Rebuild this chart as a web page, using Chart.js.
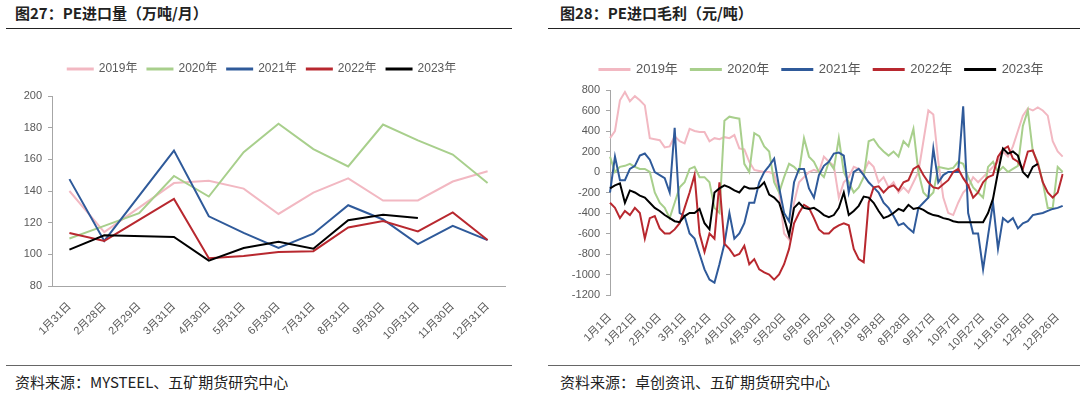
<!DOCTYPE html>
<html>
<head>
<meta charset="utf-8">
<script src="https://cdn.jsdelivr.net/npm/chart.js@4.4.0/dist/chart.umd.min.js"></script>
<style>
  html, body { margin: 0; padding: 0; background: #fff; }
  body { width: 1080px; height: 393px; position: relative; overflow: hidden; font-family: "Noto Sans CJK SC", sans-serif; }
  .title { position: absolute; top: 2px; font-size: 15px; font-weight: bold; color: #222; }
  .source { position: absolute; top: 371px; font-size: 15px; color: #222; }
  .rule { position: absolute; height: 0; }
  canvas { position: absolute; }
</style>
</head>
<body>
<div class="title" style="left:15px">图27：PE进口量（万吨/月）</div>
<div class="title" style="left:560px">图28：PE进口毛利（元/吨）</div>
<div class="rule" style="left:6px; width:506px; top:28px; border-top:1.5px solid #222"></div>
<div class="rule" style="left:548px; width:532px; top:28px; border-top:1.5px solid #222"></div>
<div class="rule" style="left:6px; width:506px; top:365px; border-top:1.5px solid #666"></div>
<div class="rule" style="left:548px; width:532px; top:365px; border-top:1.5px solid #666"></div>
<div class="source" style="left:15px">资料来源：MYSTEEL、五矿期货研究中心</div>
<div class="source" style="left:560px">资料来源：卓创资讯、五矿期货研究中心</div>
<canvas id="volChart" width="520" height="320" style="left:0; top:40px"></canvas>
<canvas id="marginChart" width="535" height="320" style="left:545px; top:40px"></canvas>
<script>
// 图27 月度进口量
const volMonths = ['1月31日','2月28日','2月29日','3月31日','4月30日','5月31日','6月30日','7月31日','8月31日','9月30日','10月31日','11月30日','12月31日'];
const vol2019 = [140, 114, null, 145, 146.5, 141.5, 125.5, 139, 148, 134, 134, 146, 152.5];
const vol2020 = [110, 118, 126, 149.5, 136.5, 164.5, 182.5, 166.5, 155.5, 182, 172, 163, 145];
const vol2021 = [147.5, 108.5, null, 165.5, 124, 113.5, 104, 113, 131, 122, 106.5, 118, 109];
const vol2022 = [113.5, 108.5, null, 135, 97.5, 99, 101.5, 102, 117, 121, 114.5, 126.5, 109];
const vol2023 = [103, 112, null, 111, 96, 104, 108, 103.5, 121.5, 125, 123, null, null];

// 图28 进口毛利 (每4天取一个点)
const marginDays = [
  '1月1日','1月5日','1月9日','1月13日','1月17日','1月21日','1月25日','1月29日',
  '2月2日','2月6日','2月10日','2月14日','2月18日','2月22日','2月26日',
  '3月1日','3月5日','3月9日','3月13日','3月17日','3月21日','3月25日','3月29日',
  '4月2日','4月6日','4月10日','4月14日','4月18日','4月22日','4月26日','4月30日',
  '5月4日','5月8日','5月12日','5月16日','5月20日','5月24日','5月28日',
  '6月1日','6月5日','6月9日','6月13日','6月17日','6月21日','6月25日','6月29日',
  '7月3日','7月7日','7月11日','7月15日','7月19日','7月23日','7月27日','7月31日',
  '8月4日','8月8日','8月12日','8月16日','8月20日','8月24日','8月28日',
  '9月1日','9月5日','9月9日','9月13日','9月17日','9月21日','9月25日','9月29日',
  '10月3日','10月7日','10月11日','10月15日','10月19日','10月23日','10月27日','10月31日',
  '11月4日','11月8日','11月12日','11月16日','11月20日','11月24日','11月28日',
  '12月2日','12月6日','12月10日','12月14日','12月18日','12月22日','12月26日','12月30日'
];
const marginTicks = ['1月1日','1月21日','2月10日','3月1日','3月21日','4月10日','4月30日','5月20日','6月9日','6月29日','7月19日','8月8日','8月28日','9月17日','10月7日','10月27日','11月16日','12月6日','12月26日'];
const margin2019 = [330, 400, 700, 780, 690, 740, 700, 650, 330, 320, 310, 240, 250, 350,
  300, 280, 420, 400, 390, 390, 300, 330, 320, 340, 330, 360, 230, 220, 100,
  20, 10, 0, 0, -20, -200, -600, -660, -300, -100, -50, 0, 20, 0, 150,
  100, 60, -250, -100, -50, 50, 30, 0, 100, 50, -100, -50, -150, -100, -200,
  -150, -200, -100, 0, 300, 600, 560, 100, -250, -400, -420, -300, -200, -150, -50,
  -100, -50, 0, 50, 100, 200, 150, 250, 400, 550, 620, 600, 630, 600, 550, 300, 200, 150];
const margin2020 = [150, 0, 50, 60, 80, 50, 30, 30, 0, -200, -300, -350, -450, -300,
  -150, -100, 30, 50, -50, -50, -100, -350, -400, 500, 540, 530, 520, 80, 0,
  380, 350, 250, 200, -100, -200, -50, 80, 50, 0, 330, 150, 100, 0, -50,
  100, 30, 330, 0, -100, -200, -150, -50, 300, 320, 250, 200, 160, 200, 150,
  300, 250, 420, 0, -200, -250, -200, 50, 40, 30, 40, 100, 80, -50, -150,
  -200, -250, 50, 100, 0, 50, 0, 30, 60, 450, 600, 200, 100, -100, -350, -350, 50, 0];
const margin2021 = [-200, 150, -80, -80, 30, 60, 160, 180, 120, 0, -30, -60, -200, 430,
  -400, -430, -600, -650, -800, -950, -1050, -1080, -900, -700, -400, -650, -600, -500, -300,
  -300, -100, 0, 60, 130, -150, -400, -480, -100, 30, 30, -160, -250, -30, 60,
  100, 180, 190, 160, -200, 0, 30, -30, -100, -150, -200, -300, -350, -430, -520,
  -500, -550, -590, -350, -300, -250, 230, -100, -30, 0, 0, 0, 640, -400, -600,
  -600, -950, -620, -300, -750, -450, -490, -450, -550, -500, -480, -420, -410, -400, -380, -360, -350, -330];
const margin2022 = [-300, -350, -450, -380, -420, -350, -400, -650, -450, -430, -550, -600, -600, -560,
  -500, -350, -200, -30, -600, -780, -600, -650, -100, -700, -750, -820, -800, -720, -900,
  -850, -950, -980, -1000, -1050, -1000, -900, -750, -500, -400, -320, -350, -450, -560, -600,
  -600, -550, -520, -500, -520, -750, -850, -880, -300, -150, -140, -200, -150, -130, -180,
  -100, -80, 30, 60, -30, -100, -150, -160, -120, -80, 0, 30, -60, -130, -250,
  -200, -100, -50, -30, 150, 220, 250, 130, 100, 30, 200, 210, 80, -100, -200, -250, -200, -20];
const margin2023 = [-160, -130, -110, -300, -180, -200, -230, -250, -300, -350, -380, -420, -450, -480,
  -490, -430, -400, -400, -360, -500, -560, -200, -160, -130, -150, -180, -200, -140, -160,
  -160, -150, -100, -220, -250, -300, -450, -620, -350, -300, -350, -360, -350, -380, -420,
  -440, -420, -350, -200, -420, -380, -330, -240, -250, -300, -380, -450, -430, -400, -360,
  -380, -320, -360, -350, -370, -400, -420, -430, -450, -460, -480, -490, -490, -490, -490,
  -490, -490, -400, -260, 0, 230, 180, 200, 160, 0, -50, 50, 80, null, null, null, null, null];

const years = ['2019年', '2020年', '2021年', '2022年', '2023年'];
const colors = ['#f2b8c2', '#a8cf8c', '#2f5a9a', '#b8282f', '#000000'];
const tickFont = { family: 'Arial, "Liberation Sans", "Noto Sans CJK SC", sans-serif', size: 11 };
const tickColor = '#595959';

function makeSets(series, width){
  return series.map((vals, i) => ({
    label: years[i],
    data: vals,
    borderColor: colors[i],
    backgroundColor: colors[i],
    borderWidth: width,
    pointRadius: 0,
    tension: 0,
    spanGaps: true,
    order: series.length - i
  }));
}

// legend keeps a fixed height so the plot top lands where the reference has it
function fixLegend(height){
  return {
    id: 'fixLegend',
    beforeInit(chart){
      const fit = chart.legend.fit;
      chart.legend.fit = function(){
        fit.bind(chart.legend)();
        this.height = height;
      };
    }
  };
}

function legendOpts(boxW, fontSize, gap){
  return {
    display: true,
    position: 'top',
    align: 'center',
    labels: {
      boxWidth: boxW,
      boxHeight: 1,
      padding: gap,
      color: tickColor,
      font: { family: tickFont.family, size: fontSize },
      sort: (a, b) => a.datasetIndex - b.datasetIndex
    }
  };
}

new Chart(document.getElementById('volChart'), {
  type: 'line',
  data: {
    labels: volMonths,
    datasets: makeSets([vol2019, vol2020, vol2021, vol2022, vol2023], 2)
  },
  options: {
    responsive: false,
    animation: false,
    devicePixelRatio: 1,
    layout: { padding: { left: 19, right: 15, top: 13, bottom: 0 } },
    plugins: {
      legend: legendOpts(25, 12, 10),
      tooltip: { enabled: false }
    },
    scales: {
      x: {
        offset: true,
        grid: { display: false },
        border: { display: true, color: '#a6a6a6' },
        ticks: { color: tickColor, font: tickFont, minRotation: 45, maxRotation: 45, autoSkip: false, padding: 6 },
        afterFit(scale){ scale.height = 74; }
      },
      y: {
        min: 80,
        max: 200,
        ticks: { stepSize: 20, color: tickColor, font: tickFont, padding: 6 },
        grid: { drawOnChartArea: false, tickLength: 4, color: '#a6a6a6' },
        border: { display: true, color: '#a6a6a6' },
        afterFit(scale){ scale.width = 33; }
      }
    }
  },
  plugins: [fixLegend(43)]
});

new Chart(document.getElementById('marginChart'), {
  type: 'line',
  data: {
    labels: marginDays,
    datasets: makeSets([margin2019, margin2020, margin2021, margin2022, margin2023], 2)
  },
  options: {
    responsive: false,
    animation: false,
    devicePixelRatio: 1,
    layout: { padding: { left: 24, right: 6, top: 10, bottom: 0 } },
    plugins: {
      legend: legendOpts(30, 13, 13),
      tooltip: { enabled: false }
    },
    scales: {
      x: {
        offset: false,
        grid: { display: false },
        border: { display: false },
        ticks: {
          color: tickColor, font: tickFont, minRotation: 45, maxRotation: 45, autoSkip: false, padding: 8,
          callback(value){
            const lab = this.getLabelForValue(value);
            return marginTicks.includes(lab) ? lab : '';
          }
        },
        afterFit(scale){ scale.height = 65; }
      },
      y: {
        min: -1200,
        max: 800,
        ticks: { stepSize: 200, color: tickColor, font: tickFont, padding: 6, callback: v => String(v) },
        grid: {
          drawOnChartArea: true,
          tickLength: 4,
          tickColor: '#a6a6a6',
          color: ctx => (ctx.tick && ctx.tick.value === 0) ? '#a6a6a6' : 'rgba(0,0,0,0)'
        },
        border: { display: true, color: '#a6a6a6' },
        afterFit(scale){ scale.width = 41; }
      }
    }
  },
  plugins: [fixLegend(40)]
});
</script>
</body>
</html>
